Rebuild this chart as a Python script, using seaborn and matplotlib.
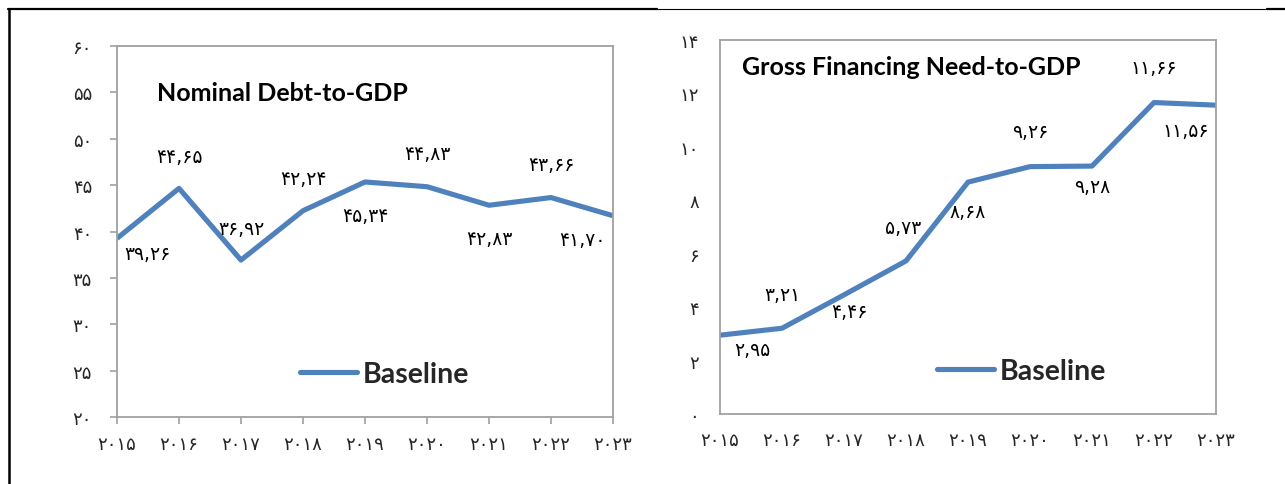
import numpy as np
import pandas as pd
import matplotlib
matplotlib.use("Agg")
import matplotlib.pyplot as plt
from matplotlib.lines import Line2D
import seaborn as sns

# ---- data ----
years = [2015, 2016, 2017, 2018, 2019, 2020, 2021, 2022, 2023]
debt_gdp = [39.26, 44.65, 36.92, 42.24, 45.34, 44.83, 42.83, 43.66, 41.70]
gfn_gdp = [2.95, 3.21, 4.46, 5.73, 8.68, 9.26, 9.28, 11.66, 11.56]
series_name = "Baseline"
title_left = "Nominal Debt-to-GDP"
title_right = "Gross Financing Need-to-GDP"
debt_yticks = [20, 25, 30, 35, 40, 45, 50, 55, 60]
gfn_yticks = [0, 2, 4, 6, 8, 10, 12, 14]

# label placement (offset in points), not data
debt_offsets = [(22, -11), (0, 23), (0, 23), (0, 23), (0, -24), (0, 24), (0, -24), (0, 24), (-22, -17)]
gfn_offsets = [(23, -10), (0, 24), (4, -12), (-2, 24), (0, -21), (0, 25), (0, -15), (0, 25), (-22, -18)]

FA = str.maketrans("0123456789", "۰۱۲۳۴۵۶۷۸۹")


def to_fa(v, dec=None):
    s = f"{v:.{dec}f}" if dec is not None else str(v)
    return s.replace(".", ",").translate(FA)


sns.set_theme(style="white")
plt.rcParams["font.family"] = ["Lato", "DejaVu Sans"]

BLUE = "#4F81BD"
GRAY = "#A0A0A0"
DIGIT_FONT = ["DejaVu Sans"]

fig = plt.figure(figsize=(12.85, 4.85), dpi=100)
ax1 = fig.add_axes([117 / 1285, 1 - 418 / 485, 496 / 1285, 371 / 485])
ax2 = fig.add_axes([720 / 1285, 1 - 415 / 485, 496 / 1285, 374 / 485])

df = pd.DataFrame({"year": years, "debt": debt_gdp, "gfn": gfn_gdp})


def draw(ax, col, ylim, yticks, offsets, title, title_xy, leg_xy, ticks_on):
    sns.lineplot(data=df, x="year", y=col, ax=ax, color=BLUE, linewidth=3.7,
                 label=series_name, solid_capstyle="butt")
    ax.set_xlim(years[0], years[-1])
    ax.set_ylim(*ylim)
    ax.set_xticks(years)
    ax.set_xticklabels([to_fa(y) for y in years], fontsize=13, family=DIGIT_FONT)
    ax.set_yticks(yticks)
    ax.set_yticklabels([to_fa(t) for t in yticks], fontsize=13, family=DIGIT_FONT)
    ax.set_xlabel("")
    ax.set_ylabel("")
    for sp in ax.spines.values():
        sp.set_color(GRAY)
        sp.set_linewidth(1.3)
    if ticks_on:
        ax.tick_params(axis="both", direction="out", length=5, width=1.2, color=GRAY,
                       bottom=True, left=True)
        ax.tick_params(axis="y", pad=13)
        ax.tick_params(axis="x", pad=8)
    else:
        ax.tick_params(axis="both", length=0)
        ax.tick_params(axis="y", pad=15)
        ax.tick_params(axis="x", pad=12)
    for x, v, off in zip(years, df[col], offsets):
        ax.annotate(to_fa(v, 2), (x, v), xytext=off, textcoords="offset points",
                    ha="center", va="center", fontsize=13.5, family=DIGIT_FONT,
                    color="black")
    ax.text(title_xy[0], title_xy[1], title, transform=ax.transAxes, fontsize=18,
            fontweight="bold", ha="left", va="center", color="black")
    leg = ax.legend(loc="center left", bbox_to_anchor=leg_xy, frameon=False,
                    borderpad=0, borderaxespad=0, handlelength=2.0, handletextpad=0.2,
                    prop={"size": 20.5, "weight": "bold"})
    for h in leg.get_lines():
        h.set_linewidth(3.7)
        h.set_solid_capstyle("round")


draw(ax1, "debt", (20, 60), debt_yticks, debt_offsets, title_left,
     (0.081, 0.876), (0.369, 0.116), True)
draw(ax2, "gfn", (0, 14), gfn_yticks, gfn_offsets, title_right,
     (0.044, 0.930), (0.4375, 0.115), False)

# page/table border lines
ytop = 1 - 10 / 485
fig.add_artist(Line2D([8 / 1285, 657 / 1285], [ytop, ytop], color="black", lw=1.6))
fig.add_artist(Line2D([657 / 1285, 1267 / 1285], [ytop, ytop], color="black", lw=0.8))
fig.add_artist(Line2D([1267 / 1285, 1.0], [ytop, ytop], color="black", lw=1.6))
fig.add_artist(Line2D([8.5 / 1285, 8.5 / 1285], [0, ytop], color="black", lw=1.8))

fig.savefig("out.png", dpi=100)
